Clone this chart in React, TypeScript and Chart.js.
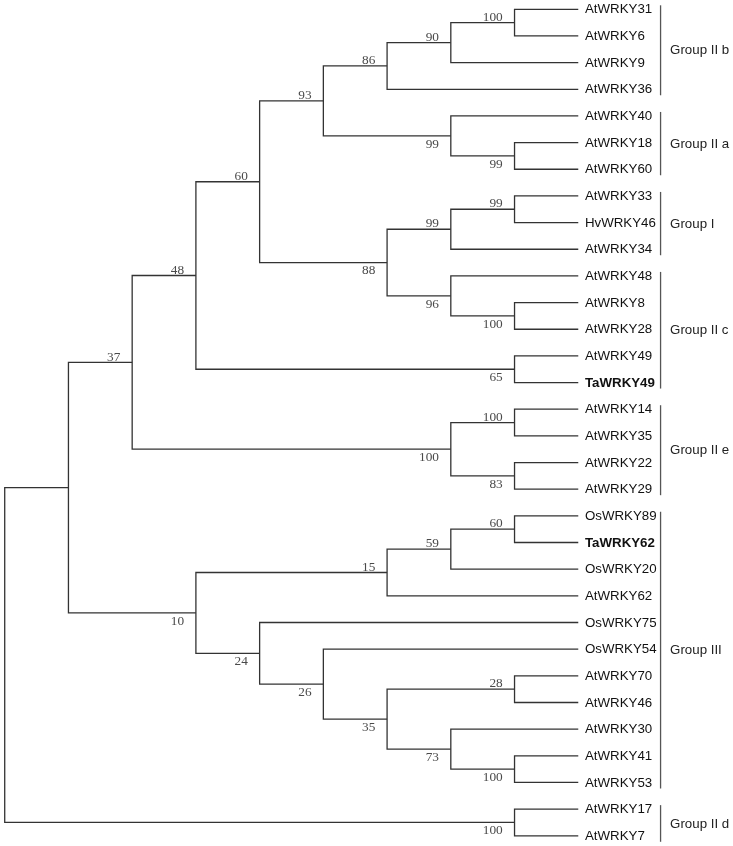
import { useEffect, useRef } from "react";
import { Chart, registerables } from "chart.js";

Chart.register(...registerables);

// Tree topology (cladogram) with bootstrap support values
const TREE_NEWICK =
  "(((((((((AtWRKY31,AtWRKY6)100,AtWRKY9)90,AtWRKY36)86,(AtWRKY40,(AtWRKY18,AtWRKY60)99)99)93," +
  "(((AtWRKY33,HvWRKY46)99,AtWRKY34)99,(AtWRKY48,(AtWRKY8,AtWRKY28)100)96)88)60," +
  "(AtWRKY49,TaWRKY49)65)48,((AtWRKY14,AtWRKY35)100,(AtWRKY22,AtWRKY29)83)100)37," +
  "((((OsWRKY89,TaWRKY62)60,OsWRKY20)59,AtWRKY62)15,(OsWRKY75,(OsWRKY54,((AtWRKY70,AtWRKY46)28," +
  "(AtWRKY30,(AtWRKY41,AtWRKY53)100)73)35)26)24)10),(AtWRKY17,AtWRKY7)100);";

const BOLD_LEAVES = ["TaWRKY49", "TaWRKY62"];

const GROUP_NAMES = ["Group II b", "Group II a", "Group I", "Group II c", "Group II e", "Group III", "Group II d"];
const GROUP_FIRST = ["AtWRKY31", "AtWRKY40", "AtWRKY33", "AtWRKY48", "AtWRKY14", "OsWRKY89", "AtWRKY17"];
const GROUP_LAST = ["AtWRKY36", "AtWRKY60", "AtWRKY34", "TaWRKY49", "AtWRKY29", "AtWRKY53", "AtWRKY7"];

// axis ranges (value units: x = cladogram level, y = leaf index)
const X_MIN = -0.074;
const X_MAX = 11.428;
const Y_MIN = -0.349;
const Y_MAX = 31.383;

type TNode = {
  name?: string;
  support?: number;
  children: TNode[];
  parent?: TNode;
  x: number;
  y: number;
  h: number;
};

function parseNewick(s: string): TNode {
  let i = 0;
  function node(): TNode {
    const n: TNode = { children: [], x: 0, y: 0, h: 0 };
    if (s[i] === "(") {
      i++;
      const c = node();
      c.parent = n;
      n.children.push(c);
      while (s[i] === ",") {
        i++;
        const d = node();
        d.parent = n;
        n.children.push(d);
      }
      i++; // ')'
    }
    let label = "";
    while (i < s.length && !",();".includes(s[i])) label += s[i++];
    if (n.children.length) {
      if (label) n.support = Number(label);
    } else n.name = label;
    return n;
  }
  return node();
}

function layout(root: TNode) {
  const leaves: TNode[] = [];
  const internals: TNode[] = [];
  function walk(n: TNode) {
    if (!n.children.length) {
      n.y = leaves.length;
      n.h = 0;
      leaves.push(n);
      return;
    }
    n.children.forEach(walk);
    n.h = Math.max(...n.children.map((c) => c.h)) + 1;
    n.y = (n.children[0].y + n.children[n.children.length - 1].y) / 2;
    internals.push(n);
  }
  walk(root);
  const top = root.h;
  function setX(n: TNode) {
    n.x = top - n.h;
    n.children.forEach(setX);
  }
  setX(root);
  return { leaves, internals, leafLevel: top };
}

export default function App() {
  const ref = useRef<HTMLCanvasElement | null>(null);

  useEffect(() => {
    if (!ref.current) return;
    const root = parseNewick(TREE_NEWICK);
    const { leaves, internals, leafLevel } = layout(root);

    const datasets = internals.map((n) => {
      const a = n.children[0];
      const b = n.children[n.children.length - 1];
      return {
        data: [
          { x: a.x, y: a.y },
          { x: n.x, y: a.y },
          { x: n.x, y: b.y },
          { x: b.x, y: b.y },
        ],
        showLine: true,
        borderColor: "#333333",
        borderWidth: 1.3,
        pointRadius: 0,
        fill: false,
        borderJoinStyle: "miter" as const,
        borderCapStyle: "butt" as const,
      };
    });

    const labelPlugin = {
      id: "treeLabels",
      afterDatasetsDraw(chart: any) {
        const ctx: CanvasRenderingContext2D = chart.ctx;
        const xs = chart.scales.x;
        const ys = chart.scales.y;
        ctx.save();

        // support values
        ctx.font = "13.3px 'Liberation Serif', 'Times New Roman', serif";
        ctx.fillStyle = "#4a4a4a";
        ctx.textAlign = "right";
        ctx.textBaseline = "alphabetic";
        internals.forEach((n) => {
          if (n.support === undefined || !n.parent) return;
          const isUpper = n.parent.children[0] === n;
          const px = xs.getPixelForValue(n.x) - 11.8;
          const py = ys.getPixelForValue(n.y);
          ctx.fillText(String(n.support), px, isUpper ? py - 1.8 : py + 11.8);
        });

        // leaf names
        const leafPx = xs.getPixelForValue(leafLevel);
        ctx.textAlign = "left";
        ctx.textBaseline = "middle";
        ctx.fillStyle = "#111111";
        leaves.forEach((l) => {
          const bold = BOLD_LEAVES.includes(l.name || "");
          ctx.font = (bold ? "bold " : "") + "13.3px 'Liberation Sans', Arial, sans-serif";
          ctx.fillText(l.name || "", leafPx + 6.7, ys.getPixelForValue(l.y) + 0.5);
        });

        // group brackets
        const bx = leafPx + 82.3;
        ctx.strokeStyle = "#555555";
        ctx.lineWidth = 1.3;
        ctx.font = "13.3px 'Liberation Sans', Arial, sans-serif";
        ctx.fillStyle = "#222222";
        GROUP_NAMES.forEach((g, i) => {
          const f = leaves.find((l) => l.name === GROUP_FIRST[i])!;
          const e = leaves.find((l) => l.name === GROUP_LAST[i])!;
          const y0 = ys.getPixelForValue(f.y) - 4;
          const y1 = ys.getPixelForValue(e.y) + 6;
          ctx.beginPath();
          ctx.moveTo(bx, y0);
          ctx.lineTo(bx, y1);
          ctx.stroke();
          const ym = (ys.getPixelForValue(f.y) + ys.getPixelForValue(e.y)) / 2;
          ctx.fillText(g, bx + 9.5, ym + 1.5);
        });

        ctx.restore();
      },
    };

    const chart = new Chart(ref.current, {
      type: "scatter",
      data: { datasets: datasets as any },
      options: {
        animation: false,
        responsive: true,
        maintainAspectRatio: false,
        events: [],
        layout: { padding: 0 },
        plugins: { legend: { display: false }, tooltip: { enabled: false } },
        scales: {
          x: { type: "linear", display: false, min: X_MIN, max: X_MAX },
          y: { type: "linear", display: false, reverse: true, min: Y_MIN, max: Y_MAX },
        },
      },
      plugins: [labelPlugin],
    });
    return () => chart.destroy();
  }, []);

  return (
    <div style={{ position: "absolute", left: 0, top: 0, width: 733, height: 846, background: "#ffffff" }}>
      <canvas ref={ref} />
    </div>
  );
}
